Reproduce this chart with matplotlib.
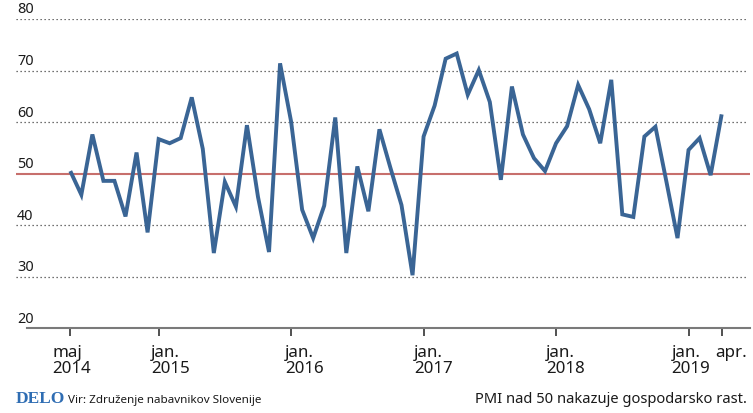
import matplotlib
matplotlib.use("Agg")
import matplotlib.pyplot as plt
from matplotlib import font_manager
from matplotlib.transforms import blended_transform_factory

# ---- data -------------------------------------------------------------
pmi = [50.5, 45.9, 57.6, 48.6, 48.6, 41.7, 54.1, 38.6, 56.7, 55.9,
       56.9, 64.8, 54.8, 34.6, 48.4, 43.6, 59.4, 45.5, 34.8, 71.4,
       60.1, 43.0, 37.5, 43.8, 60.9, 34.6, 51.4, 42.7, 58.6, 51.1,
       43.9, 30.3, 57.2, 63.2, 72.3, 73.3, 65.3, 70.1, 63.9, 48.8,
       66.9, 57.6, 53.0, 50.5, 55.9, 59.2, 67.2, 62.5, 55.9, 68.2,
       42.1, 41.6, 57.2, 59.1, 48.4, 37.5, 54.6, 56.9, 49.7, 61.5]
tick_months = [0, 8, 20, 32, 44, 56, 59]
tick_labels = ["maj\n2014", "jan.\n2015", "jan.\n2016", "jan.\n2017",
               "jan.\n2018", "jan.\n2019", "apr."]
y_ticks = [20, 30, 40, 50, 60, 70, 80]
threshold = 50
source_brand = "DELO"
source_text = "Vir: Združenje nabavnikov Slovenije"
note_text = "PMI nad 50 nakazuje gospodarsko rast."

# ---- fonts ------------------------------------------------------------
def have(name):
    try:
        font_manager.findfont(font_manager.FontProperties(family=name),
                              fallback_to_default=False)
        return True
    except Exception:
        return False

main_font = "Noto Sans" if have("Noto Sans") else "DejaVu Sans"
narrow_font = "Liberation Sans Narrow" if have("Liberation Sans Narrow") else main_font
plt.rcParams["font.family"] = [main_font, "DejaVu Sans"]

W, H = 753, 413
fig = plt.figure(figsize=(W / 100, H / 100), dpi=100)

# pixel geometry
ax_left, ax_right = 16, 750
y80, y20 = 19.0, 328.3
ax = fig.add_axes([ax_left / W, 1 - y20 / H, (ax_right - ax_left) / W, (y20 - y80) / H])

x0_px, dx_px = 70.3, 11.04
xmin = (ax_left - x0_px) / dx_px
xmax = (ax_right - x0_px) / dx_px
ax.set_xlim(xmin, xmax)
ax.set_ylim(20, 80)

for s in ["top", "right", "left"]:
    ax.spines[s].set_visible(False)
ax.spines["bottom"].set_color("#7a7a7a")
ax.spines["bottom"].set_linewidth(1.5)
ax.spines["bottom"].set_bounds((27 - x0_px) / dx_px, xmax)

# dotted gridlines
for v in y_ticks:
    if v in (20, threshold):
        continue
    ax.plot([xmin, (748 - x0_px) / dx_px], [v, v], linestyle=(0, (1, 2.2)),
            color="#444444", linewidth=0.9, zorder=1)

# threshold line
ax.axhline(threshold, color="#c76f6c", linewidth=1.5, zorder=2)

# data line
months = list(range(len(pmi)))
ax.plot(months, pmi, color="#3a6595", linewidth=2.8, solid_joinstyle="miter",
        solid_capstyle="butt", zorder=3, clip_on=False)

# y labels above gridlines
ytrans = blended_transform_factory(ax.transAxes, ax.transData)
for v in y_ticks:
    ax.annotate(str(v), xy=(0, v), xycoords=ytrans, xytext=(0.7, 4.0),
                textcoords="offset points", ha="left", va="baseline",
                fontsize=10.4, color="#1a1a1a")
ax.set_yticks([])

# x ticks
ax.set_xticks(tick_months)
ax.set_xticklabels([])
ax.tick_params(axis="x", length=5.8, width=1.2, color="#333333", direction="out")

xtrans = blended_transform_factory(ax.transData, ax.transAxes)
label_dx_px = [-17.6, -7.6, -6, -9.6, -10.3, -16.8, -6.7]
for m, lab, ddx in zip(tick_months, tick_labels, label_dx_px):
    ax.annotate(lab, xy=(m, 0), xycoords=xtrans, xytext=(ddx * 0.72, -12.3),
                textcoords="offset points", ha="left", va="top",
                fontsize=12.2, color="#1a1a1a", linespacing=0.98)

# footer
fig.text(16 / W, 1 - 403 / H, source_brand, family=["Liberation Serif", "DejaVu Serif"],
         fontweight="bold", fontsize=12.5, color="#2f6db3", ha="left", va="baseline")
fig.text(68 / W, 1 - 403 / H, source_text, family=[narrow_font, "DejaVu Sans"],
         fontsize=10.6 if narrow_font != main_font else 8.4, color="#1a1a1a",
         ha="left", va="baseline")
fig.text(747 / W, 1 - 403 / H, note_text, fontsize=10.6, color="#1a1a1a",
         ha="right", va="baseline")

fig.savefig("out.png", dpi=100)
